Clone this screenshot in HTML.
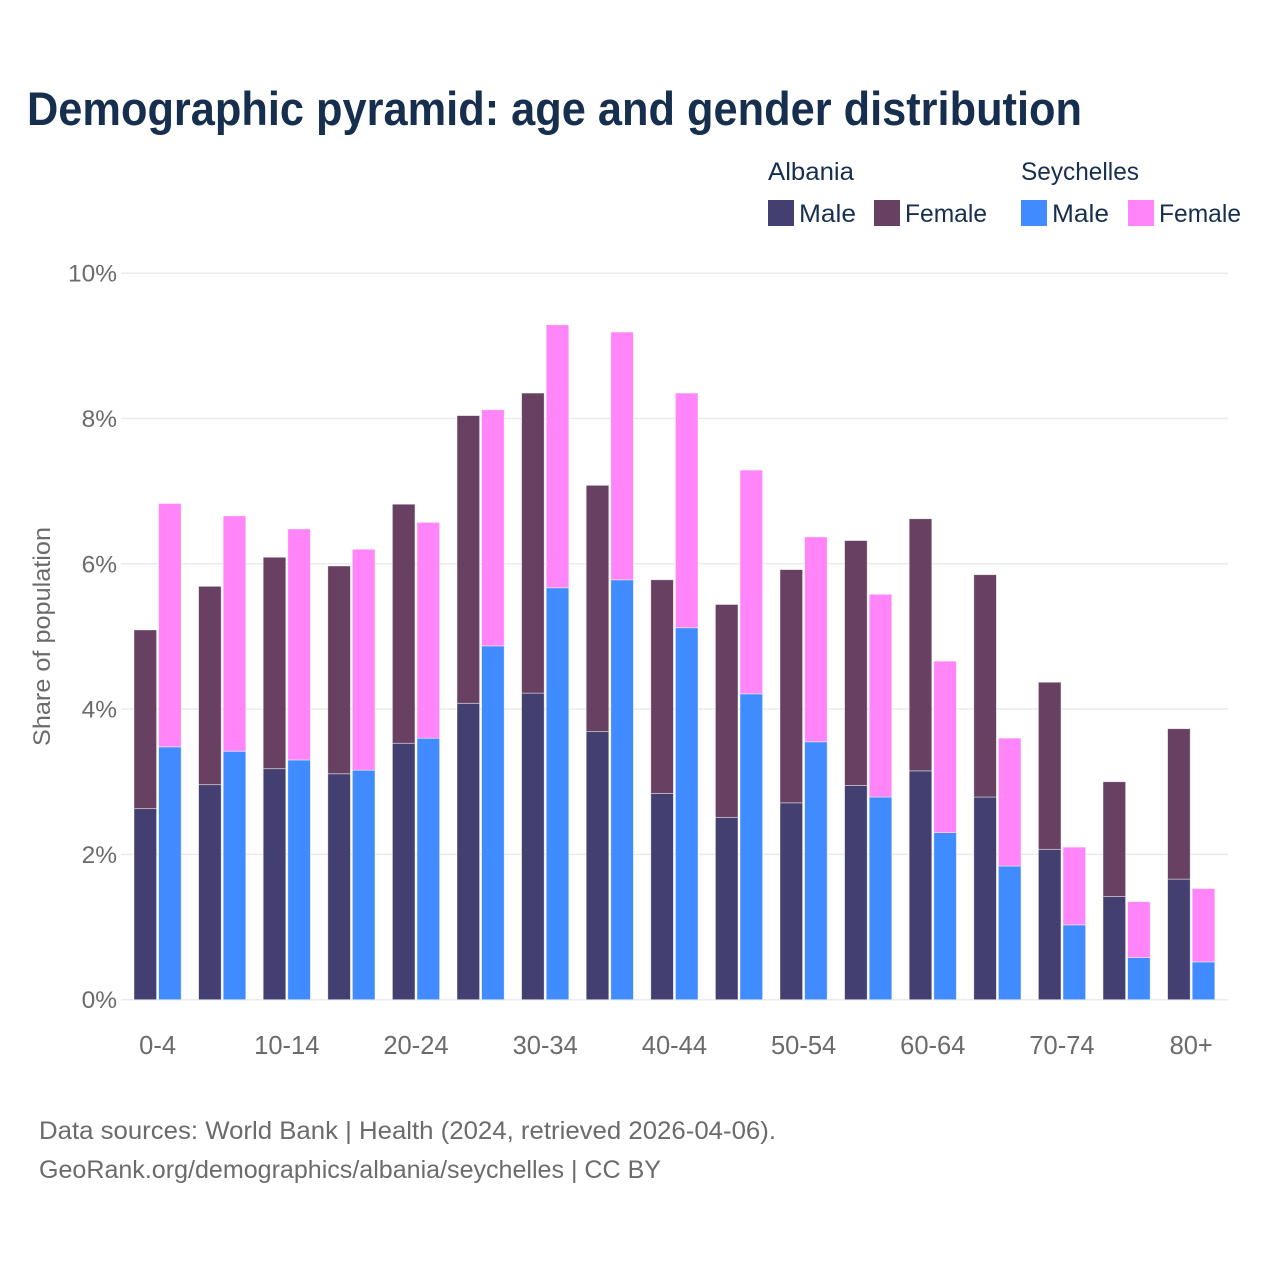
<!DOCTYPE html>
<html lang="en">
<head>
<meta charset="utf-8">
<title>Demographic pyramid</title>
<style>
html,body{margin:0;padding:0;background:#fff;width:1280px;height:1280px;overflow:hidden}
svg{display:block}
text{font-family:"Liberation Sans",sans-serif}
.dark{fill:#172f4f}
.gray{fill:#6b6b6b}
</style>
</head>
<body>
<svg id="chart" width="1280" height="1280" viewBox="0 0 1280 1280" xmlns="http://www.w3.org/2000/svg">
<rect width="1280" height="1280" fill="#ffffff"/>
<text x="27" y="125" font-size="47" font-weight="700" class="dark" textLength="1055" lengthAdjust="spacingAndGlyphs">Demographic pyramid: age and gender distribution</text>

<text x="768" y="180" font-size="25" class="dark" textLength="86" lengthAdjust="spacingAndGlyphs">Albania</text>
<text x="1021" y="180" font-size="25" class="dark" textLength="118" lengthAdjust="spacingAndGlyphs">Seychelles</text>
<rect x="768" y="200" width="26" height="26" fill="#433f70"/>
<text x="799" y="222" font-size="25" class="dark" textLength="57" lengthAdjust="spacingAndGlyphs">Male</text>
<rect x="874" y="200" width="26" height="26" fill="#674062"/>
<text x="905" y="222" font-size="25" class="dark" textLength="82" lengthAdjust="spacingAndGlyphs">Female</text>
<rect x="1021" y="200" width="26" height="26" fill="#408bff"/>
<text x="1052" y="222" font-size="25" class="dark" textLength="57" lengthAdjust="spacingAndGlyphs">Male</text>
<rect x="1128" y="200" width="26" height="26" fill="#ff85f8"/>
<text x="1159" y="222" font-size="25" class="dark" textLength="82" lengthAdjust="spacingAndGlyphs">Female</text>

<g id="grid"></g>
<g id="bars"></g>
<g id="ticks"></g>

<text transform="translate(50,636.5) rotate(-90)" text-anchor="middle" font-size="24" class="gray" textLength="219" lengthAdjust="spacingAndGlyphs">Share of population</text>

<text x="39" y="1139" font-size="25" class="gray" textLength="737" lengthAdjust="spacingAndGlyphs">Data sources: World Bank | Health (2024, retrieved 2026-04-06).</text>
<text x="39" y="1178" font-size="25" class="gray" textLength="622" lengthAdjust="spacingAndGlyphs">GeoRank.org/demographics/albania/seychelles | CC BY</text>
</svg>
<script>
const categories = ["0-4","5-9","10-14","15-19","20-24","25-29","30-34","35-39","40-44","45-49","50-54","55-59","60-64","65-69","70-74","75-79","80+"];
const albaniaMale = [2.63,2.96,3.18,3.11,3.53,4.08,4.22,3.69,2.84,2.51,2.71,2.95,3.15,2.79,2.07,1.42,1.66];
const albaniaFemale = [2.46,2.73,2.91,2.86,3.29,3.96,4.13,3.39,2.94,2.93,3.21,3.37,3.47,3.06,2.30,1.58,2.07];
const seychellesMale = [3.48,3.42,3.30,3.16,3.60,4.87,5.67,5.78,5.12,4.21,3.55,2.79,2.30,1.84,1.03,0.58,0.52];
const seychellesFemale = [3.35,3.24,3.18,3.04,2.97,3.25,3.62,3.41,3.23,3.08,2.82,2.79,2.36,1.76,1.07,0.77,1.01];
const yTicks = [0,2,4,6,8,10];
const xTickLabels = ["0-4","10-14","20-24","30-34","40-44","50-54","60-64","70-74","80+"];

const NS = "http://www.w3.org/2000/svg";
const plot = {left:121, right:1228, y0:999.7, y10:273.2, firstCenter:157.6, step:64.6, barW:22.6, gap:2};
function yScale(v){ return plot.y0 - (v/10)*(plot.y0-plot.y10); }
function xCenter(i){ return plot.firstCenter + i*plot.step; }
function svgEl(tag, attrs, parent){
  const el = document.createElementNS(NS, tag);
  for (const k in attrs) el.setAttribute(k, attrs[k]);
  parent.appendChild(el);
  return el;
}

const grid = document.getElementById("grid");
const ticks = document.getElementById("ticks");
const bars = document.getElementById("bars");

yTicks.forEach(function(t){
  const y = yScale(t);
  const line = svgEl("line", {x1:plot.left, x2:plot.right, y1:y, y2:y, stroke:"#ebebeb", "stroke-width":1.5}, grid);
  
  
  const label = svgEl("text", {x:117, y:y+8.5, "text-anchor":"end", "font-size":24.5, class:"gray"}, ticks);
  
  
  label.textContent = t + "%";
});

xTickLabels.forEach(function(name){
  const i = categories.indexOf(name);
  const label = svgEl("text", {x:xCenter(i), y:1054, "text-anchor":"middle", "font-size":25.5, class:"gray"}, ticks);
  
  
  label.textContent = name;
});

function drawSegment(x, base, value, fill, name){
  const yTop = yScale(base + value);
  const yBottom = yScale(base);
  const r = svgEl("rect", {x:x, y:yTop, width:plot.barW, height:yBottom-yTop, fill:fill, stroke:"#ffffff", "stroke-opacity":0.55, "stroke-width":0.8}, bars);
  
  
}

categories.forEach(function(c, i){
  const cx = xCenter(i);
  const xa = cx - plot.gap/2 - plot.barW;
  const xs = cx + plot.gap/2;
  drawSegment(xa, 0, albaniaMale[i], "#433f70", "bar-albania-male-" + c);
  drawSegment(xa, albaniaMale[i], albaniaFemale[i], "#674062", "bar-albania-female-" + c);
  drawSegment(xs, 0, seychellesMale[i], "#408bff", "bar-seychelles-male-" + c);
  drawSegment(xs, seychellesMale[i], seychellesFemale[i], "#ff85f8", "bar-seychelles-female-" + c);
});
</script>
</body>
</html>
